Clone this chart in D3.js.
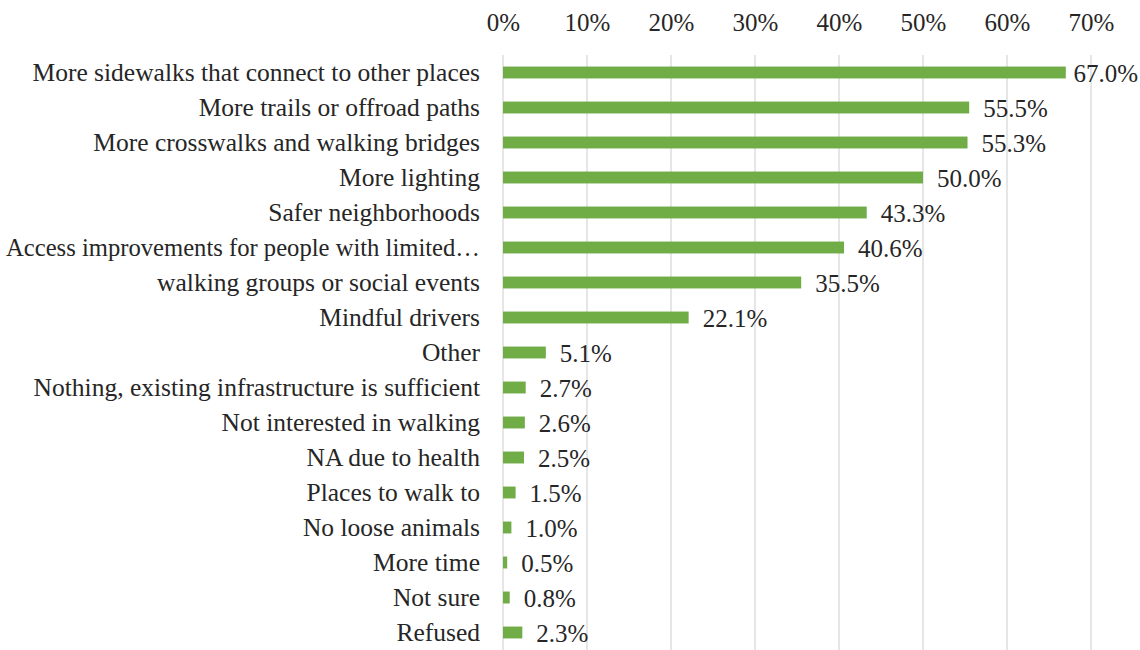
<!DOCTYPE html>
<html>
<head>
<meta charset="utf-8">
<script src="https://cdn.jsdelivr.net/npm/d3@7"></script>
<style>
  html, body { margin: 0; padding: 0; background: #fff; }
  svg { display: block; }
  text { font-family: "Liberation Serif", "Times New Roman", serif; fill: #262626; }
</style>
</head>
<body>
<svg id="chart" width="1140" height="650"></svg>
<script>
// Survey answers, top to bottom
const categories = [
  "More sidewalks that connect to other places",
  "More trails or offroad paths",
  "More crosswalks and walking bridges",
  "More lighting",
  "Safer neighborhoods",
  "Access improvements for people with limited\u2026",
  "walking groups or social events",
  "Mindful drivers",
  "Other",
  "Nothing, existing infrastructure is sufficient",
  "Not interested in walking",
  "NA due to health",
  "Places to walk to",
  "No loose animals",
  "More time",
  "Not sure",
  "Refused"
];
// Share of respondents (%)
const values = [67.0, 55.5, 55.3, 50.0, 43.3, 40.6, 35.5, 22.1, 5.1, 2.7, 2.6, 2.5, 1.5, 1.0, 0.5, 0.8, 2.3];
const tickValues = [0, 10, 20, 30, 40, 50, 60, 70];

const FONT = '"Liberation Serif", "Times New Roman", serif';
const svg = d3.select("#chart");
const width = 1140, height = 650;
const margin = { top: 55, left: 503, right: 49 };

const x = d3.scaleLinear().domain([0, 70]).range([margin.left, width - margin.right]);
const y = d3.scaleBand().domain(categories).range([margin.top, height])
  .paddingInner(0.66).paddingOuter(0.33);

// Vertical gridlines
svg.append("g")
  .selectAll("line")
  .data(tickValues)
  .join("line")
  .attr("x1", d => x(d)).attr("x2", d => x(d))
  .attr("y1", margin.top).attr("y2", height)
  .attr("stroke", "#d9d9d9")
  .attr("stroke-width", 1.3);

// Top axis labels
const xAxis = d3.axisTop(x).tickValues(tickValues).tickFormat(d => d + "%").tickSize(0).tickPadding(0);
const gx = svg.append("g").attr("transform", "translate(0,31)").call(xAxis);
gx.select(".domain").remove();
gx.selectAll("text")
  .style("font-family", FONT)
  .style("font-size", "25px")
  .attr("fill", "#262626");

// Category labels; a label too long for the left margin is squeezed to fit
const labelPad = 23;
const maxLabel = margin.left - labelPad - 6;
const yAxis = d3.axisLeft(y).tickSize(0).tickPadding(labelPad);
const gy = svg.append("g").attr("transform", `translate(${margin.left},0)`).call(yAxis);
gy.select(".domain").remove();
gy.selectAll("text")
  .style("font-family", FONT)
  .style("font-size", "25.5px")
  .attr("fill", "#262626")
  .each(function () {
    if (this.getComputedTextLength() > maxLabel) {
      d3.select(this).attr("textLength", maxLabel).attr("lengthAdjust", "spacingAndGlyphs");
    }
  });

// Bars
svg.append("g")
  .selectAll("rect")
  .data(values)
  .join("rect")
  .attr("x", x(0))
  .attr("y", (d, i) => y(categories[i]))
  .attr("width", d => x(d) - x(0))
  .attr("height", y.bandwidth())
  .attr("fill", "#70ad47");

// Value labels, pulled back inside the canvas when they would overflow the right edge
const labels = svg.append("g")
  .selectAll("text")
  .data(values)
  .join("text")
  .attr("y", (d, i) => y(categories[i]) + y.bandwidth() / 2)
  .attr("dy", "0.36em")
  .style("font-family", FONT)
  .style("font-size", "25px")
  .text(d => d.toFixed(1) + "%");
labels.attr("x", function (d) {
  const w = this.getComputedTextLength();
  return Math.min(x(d) + 14, width - w - 2);
});
</script>
</body>
</html>
